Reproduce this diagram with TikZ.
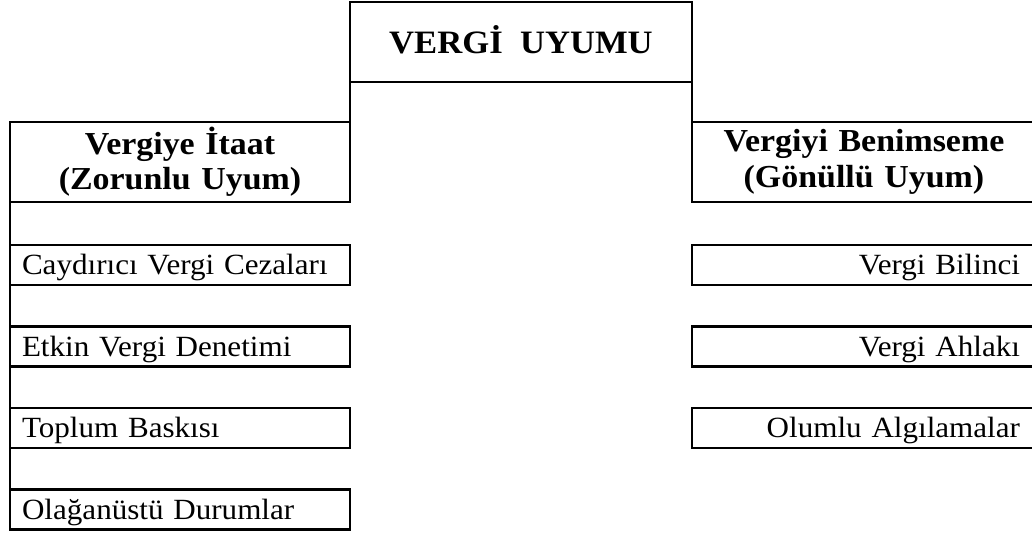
\documentclass[tikz,border=0pt]{standalone}
\usepackage{fontspec}
\setmainfont[FakeStretch=1.06]{Liberation Serif}
\begin{document}
\begin{tikzpicture}[x=0.75pt,y=-0.75pt,line width=1.7pt,
  framebox/.style={draw=black,inner sep=0pt,outer sep=0pt},
  titlebox/.style={framebox,minimum width=256.5pt,minimum height=60pt,
    font=\bfseries\fontsize{24.5}{28}\selectfont,text height=16.5pt,text depth=0pt},
  headbox/.style={framebox,minimum height=60pt,align=center,
    font=\bfseries\fontsize{24}{26.5}\selectfont},
  leftitem/.style={framebox,minimum height=30pt,inner xsep=9pt,
    text width=237pt,align=left,
    font=\fontsize{22}{25}\selectfont,text height=14.6pt,text depth=0pt},
  rightitem/.style={framebox,minimum height=30pt,inner xsep=12pt,
    text width=234pt,align=right,
    font=\fontsize{22}{25}\selectfont,text height=14.6pt,text depth=0pt},
  link/.style={draw=black,line width=1.7pt}]

\useasboundingbox (0,0) rectangle (1032,536);
\clip (0,0) rectangle (1032,536);

% top box
\node[titlebox,anchor=north west] (top) at (350,2) {VERGİ\ \ UYUMU};

% left column
\node[headbox,minimum width=255pt,text width=255pt,anchor=north west] (lhead) at (10,122)
  {Vergiye İtaat\\(Zorunlu Uyum)};
\node[leftitem,anchor=north west] (l1) at (10,245) {Caydırıcı Vergi Cezaları};
\node[leftitem,anchor=north west] (l2) at (10,326.5) {Etkin Vergi Denetimi};
\node[leftitem,anchor=north west] (l3) at (10,408) {Toplum Baskısı};
\node[leftitem,anchor=north west] (l4) at (10,489.5) {Olağanüstü Durumlar};

% right column
\node[headbox,minimum width=258pt,text width=255pt,anchor=north west] (rhead) at (692,122)
  {Vergiyi Benimseme\\(Gönüllü Uyum)};
\node[rightitem,anchor=north west] (r1) at (692,245) {Vergi Bilinci};
\node[rightitem,anchor=north west] (r2) at (692,326.5) {Vergi Ahlakı};
\node[rightitem,anchor=north west] (r3) at (692,408) {Olumlu Algılamalar};

% connectors
\draw[link] (top.south west) -- (lhead.north east);
\draw[link] (top.south east) -- (rhead.north west);
\draw[link] (lhead.south west) -- (l1.north west);
\draw[link] (l1.south west) -- (l2.north west);
\draw[link] (l2.south west) -- (l3.north west);
\draw[link] (l3.south west) -- (l4.north west);
\end{tikzpicture}
\end{document}
